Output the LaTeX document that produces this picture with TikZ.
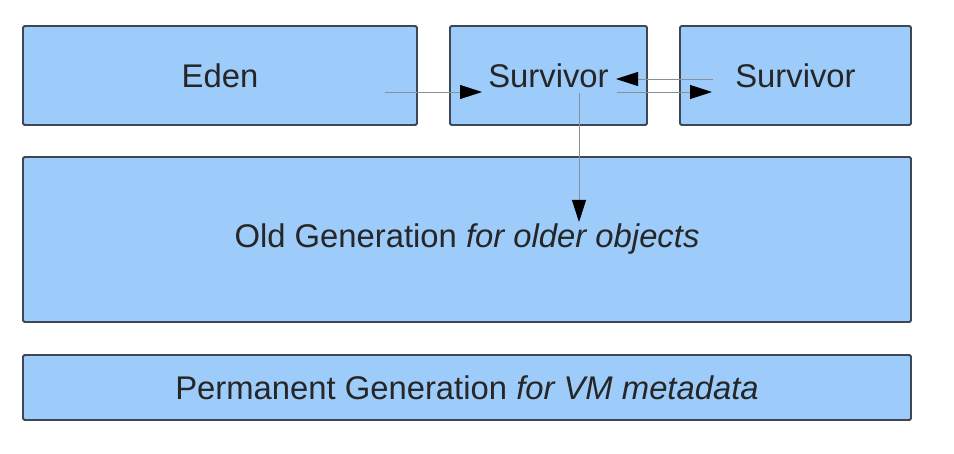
\documentclass[tikz,border=0pt]{standalone}
\usepackage{fontspec}
\setmainfont{Liberation Sans}
\usetikzlibrary{arrows.meta}
\definecolor{boxfill}{HTML}{9DCCFB}
\definecolor{boxline}{HTML}{3E4854}
\definecolor{conn}{HTML}{8A8F96}
\tikzset{
  membox/.style={draw=boxline, fill=boxfill, line width=1.8bp, rounded corners=1.5bp,
    inner sep=0pt, font=\fontsize{32.8bp}{39bp}\selectfont, text=black!85},
  flow/.style={draw=conn, line width=0.8bp, -{Triangle[length=22bp,width=14bp,fill=black,color=black]}}
}
\begin{document}
\begin{tikzpicture}[x=1bp,y=-1bp]
\useasboundingbox (0,0) rectangle (954,454);
\node[membox, minimum width=394bp, minimum height=99bp] (eden) at (220,75.5) {Eden};
\node[membox, minimum width=197bp, minimum height=99bp] (s1) at (548.5,75.5) {Survivor};
\node[membox, minimum width=231bp, minimum height=99bp] (s2) at (795.5,75.5) {Survivor};
\node[membox, minimum width=888bp, minimum height=165bp] (old) at (467,239.5) {Old Generation \textit{for older objects}};
\node[membox, minimum width=888bp, minimum height=65bp] (perm) at (467,387.5) {Permanent Generation \textit{for VM metadata}};
% connector ends
\coordinate (edenout) at (385,92);
\coordinate (s1in) at (482,92);
\coordinate (s2out) at (713,79);
\coordinate (s1back) at (616,79);
\coordinate (s1out) at (617,92);
\coordinate (s2in) at (712,92);
\coordinate (s1down) at (579,93);
\coordinate (oldin) at (579,222);
\draw[flow] (edenout) -- (s1in);
\draw[flow] (s2out) -- (s1back);
\draw[flow] (s1out) -- (s2in);
\draw[flow] (s1down) -- (oldin);
\end{tikzpicture}
\end{document}
